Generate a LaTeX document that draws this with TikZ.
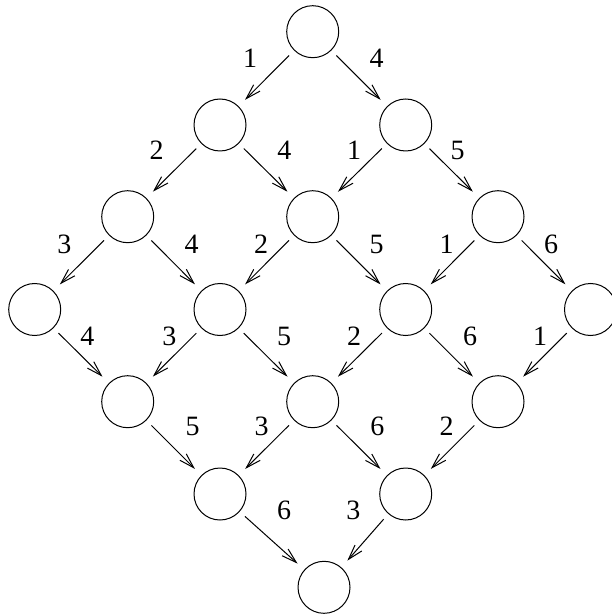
\documentclass[tikz,border=0pt]{standalone}
\usepackage{fontspec}
\setmainfont{Liberation Serif}
\usetikzlibrary{arrows.meta}

\begin{document}
\begin{tikzpicture}[x=0.5pt, y=-0.5pt, font=\fontsize{14}{16}\selectfont,
	estado/.style={circle, draw, line width=0.5pt, minimum size=26pt, inner sep=0pt},
	peso/.style={inner sep=0pt},
	fl/.style={-{Straight Barb[length=7.5pt, width=4.5pt]}, line width=0.5pt,
		shorten <=3.5pt, shorten >=4.5pt}]
	\useasboundingbox (0,0) rectangle (611,614);

	\node[estado] (e00) at (312.7,31.7) {};
	\node[estado] (e10) at (220,125) {};
	\node[estado] (e01) at (405.7,125) {};
	\node[estado] (e20) at (127.7,216.7) {};
	\node[estado] (e11) at (312.7,216.7) {};
	\node[estado] (e02) at (498,216.7) {};
	\node[estado] (e30) at (34.7,309.5) {};
	\node[estado] (e21) at (220,309.5) {};
	\node[estado] (e12) at (405.7,309.5) {};
	\node[estado] (e03) at (590.5,309.5) {};
	\node[estado] (e31) at (127.7,401.7) {};
	\node[estado] (e22) at (312.7,401.7) {};
	\node[estado] (e13) at (498,401.7) {};
	\node[estado] (e32) at (220,494) {};
	\node[estado] (e23) at (405.7,494) {};
	\node[estado] (e33) at (324,587.3) {};

	\draw[fl] (e00) -- (e10);   \draw[fl] (e00) -- (e01);
	\draw[fl] (e10) -- (e20);   \draw[fl] (e10) -- (e11);
	\draw[fl] (e01) -- (e11);   \draw[fl] (e01) -- (e02);
	\draw[fl] (e20) -- (e30);   \draw[fl] (e20) -- (e21);
	\draw[fl] (e11) -- (e21);   \draw[fl] (e11) -- (e12);
	\draw[fl] (e02) -- (e12);   \draw[fl] (e02) -- (e03);
	\draw[fl] (e30) -- (e31);   \draw[fl] (e21) -- (e31);
	\draw[fl] (e21) -- (e22);   \draw[fl] (e12) -- (e22);
	\draw[fl] (e12) -- (e13);   \draw[fl] (e03) -- (e13);
	\draw[fl] (e31) -- (e32);   \draw[fl] (e22) -- (e32);
	\draw[fl] (e22) -- (e23);   \draw[fl] (e13) -- (e23);
	\draw[fl] (e32) -- (e33);   \draw[fl] (e23) -- (e33);

	% pesos de las aristas
	\node[peso] (lw00) at (250,58.3) {1};
	\node[peso] (rw00) at (376.7,58.3) {4};
	\node[peso] (lw10) at (156.7,150.7) {2};
	\node[peso] (rw10) at (284.3,150.7) {4};
	\node[peso] (lw01) at (354,150.7) {1};
	\node[peso] (rw01) at (457.7,150.7) {5};
	\node[peso] (lw20) at (64.3,244.3) {3};
	\node[peso] (rw20) at (191.7,244.3) {4};
	\node[peso] (lw11) at (261,244.3) {2};
	\node[peso] (rw11) at (376.7,244.3) {5};
	\node[peso] (lw02) at (446.7,244.3) {1};
	\node[peso] (rw02) at (551,244.3) {6};
	\node[peso] (rw30) at (87.3,336.7) {4};
	\node[peso] (lw21) at (169.3,336.7) {3};
	\node[peso] (rw21) at (284,336.7) {5};
	\node[peso] (lw12) at (354,336.7) {2};
	\node[peso] (rw12) at (470,336.7) {6};
	\node[peso] (lw03) at (540,336.7) {1};
	\node[peso] (rw31) at (192.7,426.7) {5};
	\node[peso] (lw22) at (261.7,426.7) {3};
	\node[peso] (rw22) at (377.3,426.7) {6};
	\node[peso] (lw13) at (446.7,426.7) {2};
	\node[peso] (rw32) at (284,510) {6};
	\node[peso] (lw23) at (353.3,510) {3};
\end{tikzpicture}
\end{document}
